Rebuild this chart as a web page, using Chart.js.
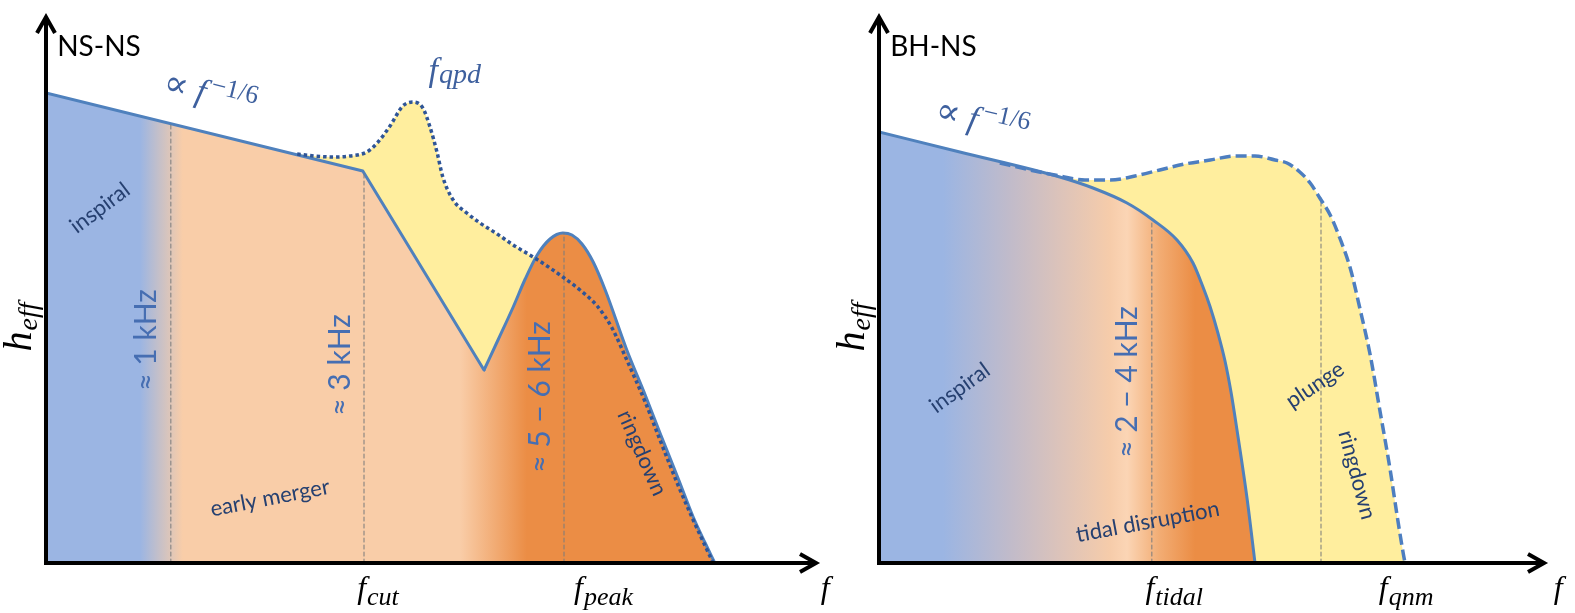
<!DOCTYPE html>
<html>
<head>
<meta charset="utf-8">
<script src="https://cdn.jsdelivr.net/npm/chart.js@4.4.1/dist/chart.umd.min.js"></script>
<style>
  html, body { margin: 0; padding: 0; background: #fff; }
  #wrap { position: relative; width: 1575px; height: 613px; overflow: hidden; }
  canvas { position: absolute; top: 0; }
  #nsns { left: 0; }
  #bhns { left: 820px; }
</style>
</head>
<body>
<div id="wrap">
  <canvas id="nsns" width="850" height="613"></canvas>
  <canvas id="bhns" width="755" height="613"></canvas>
</div>
<script>
// ---- data (schematic units: x = frequency, y = h_eff) ----
// NS-NS
const nsInspiral = [[0, 94], [39.6, 78.4], [54.75, 38.6]];
const nsPeak = [[54.75, 38.6], [56.5, 44.6], [58.4, 51.2], [59.9, 56.8], [61.4, 61.6], [63, 64.8], [64.6, 66],
  [65.75, 65.6], [67, 63.8], [68.4, 60.2], [69.9, 54.6], [72.6, 42.6], [74.9, 33.6], [76.75, 26], [79, 17],
  [80.9, 9.2], [82.4, 4], [83.6, 0]];
const nsQpd = [[31.4, 81.8], [33.6, 81.4], [35.9, 81.2], [38, 81.4], [40.1, 82.2], [41.4, 84], [43, 87.4],
  [44.6, 91.4], [45.9, 92.2], [47.1, 91], [48, 87.2], [48.9, 82], [49.6, 77.2], [50.9, 72.6], [52.6, 70],
  [54.25, 68], [56.4, 65.8], [58.4, 63.6], [60.9, 61.2], [63, 59], [64.6, 57.2], [66.75, 54.6], [68.9, 51.4],
  [70.75, 47], [72.6, 40.6], [74.9, 32.2], [76.75, 24.6], [79, 15.6], [80.9, 8.6], [82.4, 3.4], [83.4, 0]];
const nsMarkers = [[15.6, 87.6], [39.75, 78.4], [64.75, 66]];
const nsTickAt = [41.5, 69.7];
const nsTickSub = ['cut', 'peak'];

// BH-NS
const bhSolid = [[0, 86.2], [10.1, 82.2], [22.6, 77.2], [26.75, 75], [31, 72], [34.25, 68.6], [37.25, 64.6],
  [39.25, 60], [40.5, 55.2], [41.4, 51.2], [42.4, 45.8], [43.25, 40.4], [44, 34.2], [44.75, 26.6], [46, 13], [47, 0]];
const bhPlunge = [[15.1, 80], [18.9, 78.6], [22.6, 77.4], [25.75, 76.6], [28.9, 76.6], [32, 77.4], [35.1, 78.6],
  [38.25, 79.8], [41.4, 80.6], [44.5, 81.4], [47, 81.4], [49.5, 80.6], [51, 80], [52.6, 78.2], [53.9, 76],
  [55.1, 73], [56.4, 69.6], [57.6, 65], [58.9, 59], [60.1, 51], [61.4, 41.6], [62.6, 30.6], [63.9, 18.6],
  [64.75, 9.6], [65.5, 2.2], [65.75, 0]];
const bhMarkers = [[34.1, 68.6], [55.25, 73]];
const bhTickAt = [36.9, 65.9];
const bhTickSub = ['tidal', 'qnm'];

// ---- styles ----
const BLUE = 'rgb(155,181,227)';
const PEACH = 'rgb(249,205,168)';
const ORANGE = 'rgb(235,141,69)';
const YELLOW = 'rgb(255,238,158)';
const LINE = 'rgb(79,129,189)';
const DOT = 'rgb(47,85,151)';
const DASH = 'rgb(77,126,192)';
const GRAY = 'rgba(125,125,125,0.85)';
const INK = 'rgb(38,64,112)';
const KHZ = 'rgb(70,110,178)';
const MBLUE = 'rgb(62,96,158)';
const SANS = 'Lato, "Open Sans", sans-serif';
const SERIF = '"Liberation Serif", "DejaVu Serif", serif';

const pts = arr => arr.map(([x, y]) => ({x, y}));

function bandFill(stops) {
  return c => {
    const ch = c.chart, a = ch.chartArea;
    if (!a || !ch.scales.x) return PEACH;
    const sx = ch.scales.x;
    const g = ch.ctx.createLinearGradient(a.left, 0, a.right, 0);
    stops.forEach(([v, col]) => {
      const t = (sx.getPixelForValue(v) - a.left) / (a.right - a.left);
      g.addColorStop(Math.min(1, Math.max(0, t)), col);
    });
    return g;
  };
}

function drawRich(ctx, l, px, py) {
  ctx.save();
  ctx.translate(px, py);
  ctx.rotate((l.angle || 0) * Math.PI / 180);
  ctx.textBaseline = l.base || 'alphabetic';
  ctx.textAlign = 'left';
  let w = 0;
  const ws = l.parts.map(p => { ctx.font = p.font; const v = ctx.measureText(p.t).width + (p.gap || 0); w += v; return v; });
  let cx = l.align === 'left' ? 0 : -w / 2;
  l.parts.forEach((p, i) => {
    ctx.font = p.font;
    ctx.fillStyle = p.color || '#000';
    ctx.fillText(p.t, cx, p.dy || 0);
    cx += ws[i];
  });
  ctx.restore();
}

const sketch = {
  id: 'sketch',
  afterDraw(chart, args, opts) {
    const {ctx, chartArea: a, scales: {x, y}} = chart;
    ctx.save();
    ctx.strokeStyle = '#000';
    ctx.lineWidth = 4;
    ctx.lineJoin = 'miter';
    ctx.beginPath();
    ctx.moveTo(a.left, a.top + 4);
    ctx.lineTo(a.left, a.bottom);
    ctx.lineTo(a.right - 4, a.bottom);
    ctx.stroke();
    ctx.beginPath();
    ctx.moveTo(a.right - 20, a.bottom - 9);
    ctx.lineTo(a.right - 4, a.bottom);
    ctx.lineTo(a.right - 20, a.bottom + 9);
    ctx.moveTo(a.left - 9, a.top + 20);
    ctx.lineTo(a.left, a.top + 4);
    ctx.lineTo(a.left + 9, a.top + 20);
    ctx.stroke();
    ctx.restore();
    opts.labels.forEach(l => drawRich(ctx, l, x.getPixelForValue(l.x), y.getPixelForValue(l.y)));
  }
};

const txt = (t, x, y, angle, font, color, extra) =>
  Object.assign({x, y, angle, base: 'middle', parts: [{t, font, color}]}, extra || {});
const fLabel = (sub, x, y) => ({x, y, parts: [
  {t: 'f', font: `italic 32px ${SERIF}`, gap: 1},
  {t: sub, font: `italic 26px ${SERIF}`, dy: 7}]});
const hLabel = x => ({x, y: 47.2, angle: -90, parts: [
  {t: 'h', font: `italic 40px ${SERIF}`, gap: 1},
  {t: 'eff', font: `italic 28px ${SERIF}`, dy: 6}]});
const propLabel = (x, y, angle) => ({x, y, angle, parts: [
  {t: '\u221D ', font: `36px ${SERIF}`, color: MBLUE},
  {t: 'f', font: `italic 34px ${SERIF}`, color: MBLUE, gap: 4},
  {t: '\u22121/6', font: `26px ${SERIF}`, color: MBLUE, dy: -12}]});

function markerSets(list) {
  return list.map(([mx, top]) => ({
    data: pts([[mx, 0], [mx, top]]), borderColor: GRAY, borderWidth: 1.2, borderDash: [4, 3],
    fill: false, order: 3
  }));
}

function makeChart(id, xmax, pad, datasets, labels) {
  return new Chart(document.getElementById(id), {
    type: 'line',
    data: {datasets},
    options: {
      responsive: false,
      animation: false,
      devicePixelRatio: 1,
      events: [],
      layout: {padding: pad},
      elements: {point: {radius: 0, hitRadius: 0}, line: {borderCapStyle: 'round', borderJoinStyle: 'round'}},
      scales: {
        x: {type: 'linear', min: 0, max: xmax, display: false},
        y: {type: 'linear', min: 0, max: 110, display: false}
      },
      plugins: {legend: {display: false}, tooltip: {enabled: false}, sketch: {labels}}
    },
    plugins: [sketch]
  });
}

// ---- NS-NS ----
const nsBands = [[0, BLUE], [11.75, BLUE], [17.1, PEACH], [51.75, PEACH], [60.1, ORANGE], [96.75, ORANGE]];
const nsLabels = [
  txt('NS-NS', 1.4, 103.2, 0, `28px ${SANS}`, '#000', {align: 'left'}),
  propLabel(20.2, 91.8, 14),
  {x: 51.1, y: 96.4, parts: [
    {t: 'f', font: `italic 34px ${SERIF}`, color: MBLUE, gap: 1},
    {t: 'qpd', font: `italic 28px ${SERIF}`, color: MBLUE, dy: 2}]},
  txt('inspiral', 6.75, 71, -37, `22px ${SANS}`, INK),
  txt('\u2248 1 kHz', 12.6, 44.6, -90, `30px ${SANS}`, KHZ),
  txt('\u2248 3 kHz', 36.75, 39.6, -90, `30px ${SANS}`, KHZ),
  txt('\u2248 5 \u2212 6 kHz', 61.75, 33.2, -90, `30px ${SANS}`, KHZ),
  txt('early merger', 28, 13, -11, `22px ${SANS}`, INK),
  txt('ringdown', 74.5, 22, 66, `22px ${SANS}`, INK),
  hLabel(-1.875),
  ...nsTickAt.map((v, i) => fLabel(nsTickSub[i], v, -7)),
  {x: 97.4, y: -7, parts: [{t: 'f', font: `italic 32px ${SERIF}`}]}
];
makeChart('nsns', 96.75, {left: 46, right: 30, top: 13, bottom: 50}, [
  {data: pts(nsQpd), borderColor: 'transparent', borderWidth: 0, fill: 'origin', backgroundColor: YELLOW,
    cubicInterpolationMode: 'monotone', order: 5},
  {data: pts(nsInspiral), borderColor: LINE, borderWidth: 3, fill: 'origin', backgroundColor: bandFill(nsBands),
    tension: 0, order: 4},
  {data: pts(nsPeak), borderColor: LINE, borderWidth: 3, fill: 'origin', backgroundColor: bandFill(nsBands),
    cubicInterpolationMode: 'monotone', order: 4},
  ...markerSets(nsMarkers),
  {data: pts(nsQpd), borderColor: DOT, borderWidth: 3.5, borderDash: [3.5, 3], borderCapStyle: 'butt',
    fill: false, cubicInterpolationMode: 'monotone', order: 2}
], nsLabels);

// ---- BH-NS ----
const bhBands = [[0, BLUE], [8, BLUE], [16.4, 'rgb(193,187,202)'], [22.6, 'rgb(220,195,186)'],
  [28.9, 'rgb(246,204,170)'], [31, 'rgb(251,213,181)'], [35.1, 'rgb(242,172,115)'], [39.5, ORANGE], [83.6, ORANGE]];
const bhLabels = [
  txt('BH-NS', 1.4, 103.2, 0, `28px ${SANS}`, '#000', {align: 'left'}),
  propLabel(12.6, 86.4, 13),
  txt('inspiral', 10.1, 35, -36, `22px ${SANS}`, INK),
  txt('\u2248 2 \u2212 4 kHz', 31, 36.2, -90, `30px ${SANS}`, KHZ),
  txt('tidal disruption', 33.6, 8.2, -10.6, `22px ${SANS}`, INK),
  txt('plunge', 54.5, 35.6, -34, `22px ${SANS}`, INK),
  txt('ringdown', 59.75, 17.6, 75, `22px ${SANS}`, INK),
  hLabel(-1.875),
  ...bhTickAt.map((v, i) => fLabel(bhTickSub[i], v, -7)),
  {x: 84.9, y: -7, parts: [{t: 'f', font: `italic 32px ${SERIF}`}]}
];
makeChart('bhns', 83.625, {left: 59, right: 27, top: 13, bottom: 50}, [
  {data: pts(bhPlunge), borderColor: 'transparent', borderWidth: 0, fill: 'origin', backgroundColor: YELLOW,
    cubicInterpolationMode: 'monotone', order: 5},
  {data: pts(bhSolid), borderColor: LINE, borderWidth: 3, fill: 'origin', backgroundColor: bandFill(bhBands),
    cubicInterpolationMode: 'monotone', order: 4},
  ...markerSets(bhMarkers),
  {data: pts(bhPlunge), borderColor: DASH, borderWidth: 3.5, borderDash: [11, 5], borderCapStyle: 'butt',
    fill: false, cubicInterpolationMode: 'monotone', order: 2}
], bhLabels);
</script>
</body>
</html>
